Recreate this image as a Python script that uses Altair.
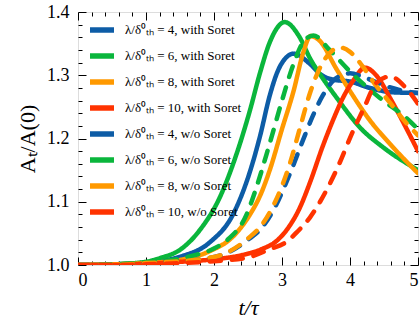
import altair as alt
import pandas as pd

# ---- data (t/tau, A_t/A(0)) ----
t_b4s = [0, 0.5, 1.0, 1.5, 1.94, 2.28, 2.53, 2.68, 2.82, 2.97, 3.17, 3.41, 3.56, 3.75, 4.0, 4.29, 4.63, 5.0]
v_b4s = [1.0, 1.001, 1.004, 1.013, 1.036, 1.08, 1.148, 1.205, 1.268, 1.314, 1.334, 1.318, 1.302, 1.293, 1.29, 1.28, 1.273, 1.272]

t_g6s = [0, 0.5, 1.0, 1.21, 1.5, 1.79, 2.09, 2.33, 2.53, 2.68, 2.82, 3.04, 3.26, 3.41, 3.6, 3.8, 4.15, 4.5, 5.0]
v_g6s = [1.0, 1.001, 1.005, 1.011, 1.024, 1.055, 1.108, 1.175, 1.245, 1.305, 1.352, 1.384, 1.36, 1.327, 1.295, 1.265, 1.217, 1.185, 1.15]

t_o8s = [0, 0.5, 1.0, 1.5, 1.94, 2.28, 2.53, 2.68, 2.82, 3.0, 3.17, 3.31, 3.42, 3.55, 3.8, 4.0, 4.29, 4.6, 5.0]
v_o8s = [1.0, 1.001, 1.003, 1.008, 1.022, 1.045, 1.08, 1.11, 1.15, 1.215, 1.275, 1.335, 1.362, 1.355, 1.31, 1.275, 1.229, 1.19, 1.145]

t_r10s = [0, 0.5, 1.0, 1.5, 2.0, 2.43, 2.7, 2.92, 3.1, 3.26, 3.41, 3.6, 3.75, 3.9, 4.05, 4.22, 4.4, 4.6, 4.8, 5.0]
v_r10s = [1.0, 1.0, 1.002, 1.005, 1.009, 1.016, 1.025, 1.038, 1.06, 1.09, 1.13, 1.188, 1.229, 1.265, 1.292, 1.312, 1.298, 1.262, 1.222, 1.18]

t_b4w = [0, 0.5, 1.0, 1.5, 1.8, 2.19, 2.5, 2.68, 2.9, 3.1, 3.3, 3.45, 3.6, 3.75, 3.9, 4.0, 4.2, 4.5, 4.8, 5.0]
v_b4w = [1.0, 1.0, 1.003, 1.006, 1.009, 1.019, 1.04, 1.056, 1.092, 1.14, 1.195, 1.235, 1.268, 1.291, 1.301, 1.303, 1.297, 1.284, 1.275, 1.272]

t_g6w = [0, 0.5, 1.0, 1.5, 1.7, 2.0, 2.2, 2.48, 2.6, 2.8, 3.0, 3.17, 3.31, 3.46, 3.7, 4.0, 4.44, 4.8, 5.0]
v_g6w = [1.0, 1.001, 1.004, 1.01, 1.015, 1.026, 1.04, 1.08, 1.115, 1.185, 1.26, 1.318, 1.352, 1.363, 1.34, 1.306, 1.264, 1.235, 1.215]

t_o8w = [0, 0.5, 1.0, 1.5, 1.8, 2.2, 2.5, 2.7, 2.9, 3.1, 3.26, 3.4, 3.55, 3.7, 3.85, 4.0, 4.2, 4.34, 4.6, 4.8, 5.0]
v_o8w = [1.0, 1.0, 1.003, 1.006, 1.009, 1.02, 1.042, 1.063, 1.1, 1.155, 1.215, 1.268, 1.31, 1.335, 1.344, 1.337, 1.312, 1.29, 1.255, 1.228, 1.205]

t_r10w = [0, 0.5, 1.0, 1.5, 2.0, 2.5, 2.82, 3.07, 3.22, 3.41, 3.56, 3.8, 4.05, 4.2, 4.39, 4.59, 4.83, 5.0]
v_r10w = [1.0, 1.0, 1.001, 1.003, 1.006, 1.012, 1.025, 1.037, 1.052, 1.075, 1.1, 1.15, 1.213, 1.247, 1.288, 1.298, 1.279, 1.255]

labels = [
    "λ/δ⁰ₜₕ = 4, with Soret",
    "λ/δ⁰ₜₕ = 6, with Soret",
    "λ/δ⁰ₜₕ = 8, with Soret",
    "λ/δ⁰ₜₕ = 10, with Soret",
    "λ/δ⁰ₜₕ = 4, w/o Soret",
    "λ/δ⁰ₜₕ = 6, w/o Soret",
    "λ/δ⁰ₜₕ = 8, w/o Soret",
    "λ/δ⁰ₜₕ = 10, w/o Soret",
]
kinds = ["with", "with", "with", "with", "wo", "wo", "wo", "wo"]
series_t = [t_b4s, t_g6s, t_o8s, t_r10s, t_b4w, t_g6w, t_o8w, t_r10w]
series_v = [v_b4s, v_g6s, v_o8s, v_r10s, v_b4w, v_g6w, v_o8w, v_r10w]

colors = ["#0d5ca6", "#0ab63c", "#ff9900", "#ff3300",
          "#0d5ca6", "#0ab63c", "#ff9900", "#ff3300"]

x_major = [0, 1, 2, 3, 4, 5]
x_minor = [0.2, 0.4, 0.6, 0.8, 1.2, 1.4, 1.6, 1.8, 2.2, 2.4, 2.6, 2.8,
           3.2, 3.4, 3.6, 3.8, 4.2, 4.4, 4.6, 4.8]
y_major = [1.0, 1.1, 1.2, 1.3, 1.4]
y_minor = [1.02, 1.04, 1.06, 1.08, 1.12, 1.14, 1.16, 1.18, 1.22, 1.24, 1.26, 1.28,
           1.32, 1.34, 1.36, 1.38]

rows = []
for lab, kind, ts, vs in zip(labels, kinds, series_t, series_v):
    for t, v in zip(ts, vs):
        rows.append({"series": lab, "kind": kind, "t": t, "v": v})
df = pd.DataFrame(rows)

W, H = 340, 253
FONT = "Liberation Serif"
xs = alt.Scale(domain=[0, 5], nice=False, zero=False)
ys = alt.Scale(domain=[1.0, 1.4], nice=False, zero=False)

base = alt.Chart(df)

lines = base.mark_line(strokeWidth=4.5, interpolate="monotone", clip=True, strokeCap="round").encode(
    x=alt.X("t:Q", scale=xs, axis=alt.Axis(
        orient="bottom", values=x_major, format="d", ticks=False, domain=False, grid=False,
        labelFont=FONT, labelFontSize=18, labelColor="black", labelPadding=6,
        title="t/τ", titleFont=FONT, titleFontSize=22, titleFontStyle="italic",
        titleFontWeight="normal", titleColor="black", titleBaseline="alphabetic",
        titleX=W / 2, titleY=49)),
    y=alt.Y("v:Q", scale=ys, axis=alt.Axis(
        orient="left", values=y_major, format=".1f", ticks=False, domain=False, grid=False,
        labelFont=FONT, labelFontSize=18, labelColor="black", labelPadding=9,
        title="Aₜ/A(0)", titleFont=FONT, titleFontSize=22, titleFontWeight="normal",
        titleColor="black", titleBaseline="alphabetic", titleX=-44, titleY=H / 2,
        titleAngle=270, titleAlign="center")),
    color=alt.Color("series:N", scale=alt.Scale(domain=labels, range=colors),
                    sort=labels,
                    legend=alt.Legend(
                        orient="none", legendX=9, legendY=3, title=None, padding=0,
                        symbolType="stroke", symbolSize=576, symbolStrokeWidth=5.5,
                        labelFont=FONT, labelFontSize=13, labelColor="black",
                        labelFontWeight="normal",
                        labelOffset=8, rowPadding=0, labelLimit=300)),
    strokeDash=alt.StrokeDash("kind:N", scale=alt.Scale(domain=["with", "wo"],
                                                       range=[[1, 0], [11, 11]]),
                              legend=None),
    order=alt.Order("t:Q"),
)


def tick_layer(x_orient, y_orient, xv, yv, size):
    return base.mark_point(opacity=0).encode(
        x=alt.X("t:Q", scale=xs, axis=alt.Axis(
            orient=x_orient, offset=-H, values=xv, tickSize=size, tickColor="black",
            tickWidth=1, labels=False, domain=False, grid=False, title=None)),
        y=alt.Y("v:Q", scale=ys, axis=alt.Axis(
            orient=y_orient, offset=-W, values=yv, tickSize=size, tickColor="black",
            tickWidth=1, labels=False, domain=False, grid=False, title=None)),
    )


t1 = tick_layer("top", "right", x_major, y_major, 8)
t2 = tick_layer("top", "right", x_minor, y_minor, 4)
t3 = tick_layer("bottom", "left", x_major, y_major, 8)
t4 = tick_layer("bottom", "left", x_minor, y_minor, 4)

chart = alt.layer(lines, t1, t2, t3, t4).resolve_axis(
    x="independent", y="independent"
).properties(
    width=W, height=H,
    autosize=alt.AutoSizeParams(type="none"),
    padding={"left": 78, "top": 12, "right": 2, "bottom": 55},
).configure_view(
    stroke="#222222", strokeWidth=1.5
).configure_legend(
    labelFont=FONT, labelFontSize=13, labelColor="black"
).configure(background="white", font=FONT)

chart.save("out.html", embed_options={"renderer": "svg", "actions": False})
